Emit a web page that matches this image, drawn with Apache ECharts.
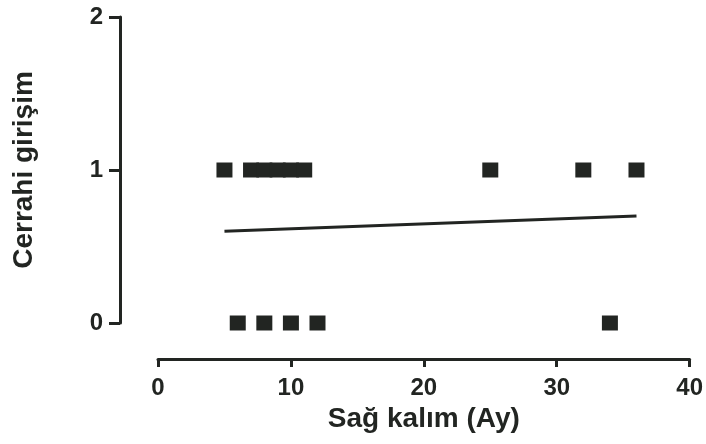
<!DOCTYPE html>
<html>
<head>
<meta charset="utf-8">
<script src="https://cdn.jsdelivr.net/npm/echarts@6/dist/echarts.min.js"></script>
<style>
  html, body { margin: 0; padding: 0; background: #fff; }
  #chart { width: 706px; height: 444px; }
</style>
</head>
<body>
<div id="chart"></div>
<script>
// survival (months) vs surgical intervention (0/1)
var survivalYes = [5, 7, 8, 9, 10, 11, 25, 32, 36];
var survivalNo = [6, 8, 10, 12, 34];
var fitLine = [[5, 0.6], [36, 0.7]];
var xTicks = [0, 10, 20, 30, 40];
var yTicks = [0, 1, 2];

var ink = "#222522";
var font = "'Liberation Sans', Arial, sans-serif";

var points = [];
for (var i = 0; i < survivalYes.length; i++) points.push([survivalYes[i], 1]);
for (var j = 0; j < survivalNo.length; j++) points.push([survivalNo[j], 0]);

var chart = echarts.init(document.getElementById("chart"));
chart.setOption({
  animation: false,
  grid: { left: 158, right: 14, top: 17, bottom: 121 },
  xAxis: {
    type: "value",
    min: xTicks[0],
    max: xTicks[xTicks.length - 1],
    interval: 10,
    offset: 36,
    name: "Sağ kalım (Ay)",
    nameLocation: "middle",
    nameGap: 40,
    nameTextStyle: { fontFamily: font, fontWeight: "bold", fontSize: 28, color: ink },
    axisLine: { show: true, onZero: false, lineStyle: { color: ink, width: 3 } },
    axisTick: { show: true, length: 8, lineStyle: { color: ink, width: 3 } },
    axisLabel: { fontFamily: font, fontWeight: "bold", fontSize: 24, color: ink, margin: 17 },
    splitLine: { show: false }
  },
  yAxis: {
    type: "value",
    min: yTicks[0],
    max: yTicks[yTicks.length - 1],
    interval: 1,
    offset: 38,
    name: "Cerrahi girişim",
    nameLocation: "middle",
    nameGap: 82,
    nameTextStyle: { fontFamily: font, fontWeight: "bold", fontSize: 28, color: ink },
    axisLine: { show: true, onZero: false, lineStyle: { color: ink, width: 3 } },
    axisTick: { show: true, length: 11, lineStyle: { color: ink, width: 3 } },
    axisLabel: { fontFamily: font, fontWeight: "bold", fontSize: 24, color: ink, margin: 17 },
    splitLine: { show: false }
  },
  series: [
    {
      type: "scatter",
      symbol: "rect",
      symbolSize: [16, 15],
      itemStyle: { color: ink, opacity: 1 },
      data: points
    },
    {
      type: "line",
      symbol: "none",
      lineStyle: { color: ink, width: 3 },
      data: fitLine
    }
  ]
});
</script>
</body>
</html>
